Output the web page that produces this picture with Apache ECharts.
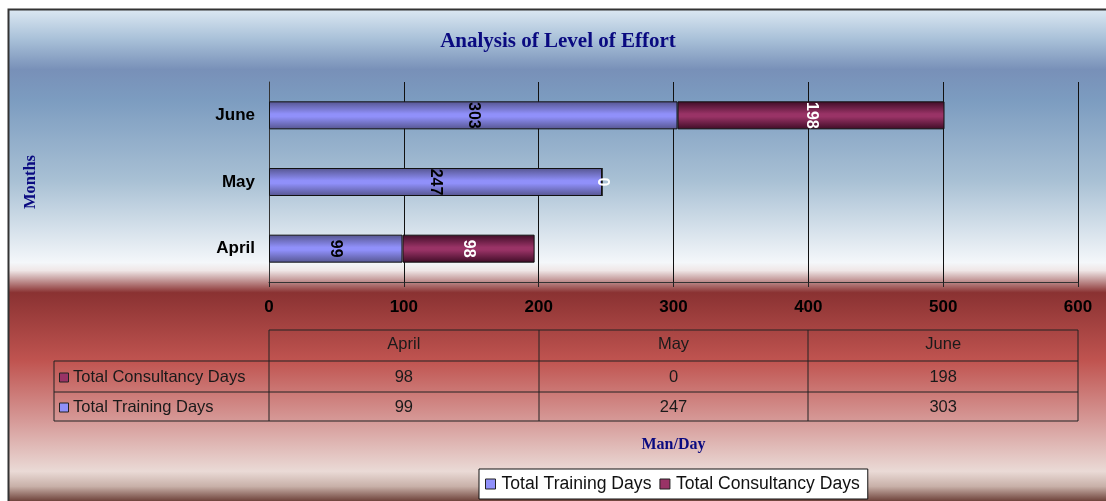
<!DOCTYPE html>
<html>
<head>
<meta charset="utf-8">
<title>Analysis of Level of Effort</title>
<script src="https://cdn.jsdelivr.net/npm/echarts@6/dist/echarts.min.js"></script>
<style>
  html, body { margin: 0; padding: 0; background: #fff; }
  #chart { width: 1106px; height: 501px; }
</style>
</head>
<body>
<div id="chart"></div>
<script>
// values
const months = ['April', 'May', 'June'];
const trainingDays = [99, 247, 303];
const consultancyDays = [98, 0, 198];
const xTicks = [0, 100, 200, 300, 400, 500, 600];
const trainingName = 'Total Training Days';
const consultancyName = 'Total Consultancy Days';

// colours
const blue = '#9090fa';
const purple = '#993366';

// plot box (px)
const gridLeft = 269;
const gridRightX = 1078;
const gridTop = 82;
const gridBottomY = 282;

const sans = 'Arial, "Liberation Sans", sans-serif';
const serif = '"Liberation Serif", "Times New Roman", serif';

function barFill(edge, mid) {
  return new echarts.graphic.LinearGradient(0, 0, 0, 1, [
    { offset: 0, color: edge },
    { offset: 0.45, color: mid },
    { offset: 0.55, color: mid },
    { offset: 1, color: edge }
  ]);
}

// data table under the axis, rows built from the same arrays
function buildTable() {
  const els = [];
  const colW = (gridRightX - gridLeft) / months.length;
  const tableLeft = 54;
  const rowY = [330, 361, 392, 421];
  const line = (x1, y1, x2, y2) => ({
    type: 'line',
    shape: { x1: x1, y1: y1, x2: x2, y2: y2 },
    style: { stroke: '#222', lineWidth: 1 },
    silent: true
  });
  els.push(line(gridLeft, rowY[0], gridRightX, rowY[0]));
  for (let i = 1; i < rowY.length; i++) {
    els.push(line(tableLeft, rowY[i], gridRightX, rowY[i]));
  }
  els.push(line(tableLeft, rowY[1], tableLeft, rowY[3]));
  for (let c = 0; c <= months.length; c++) {
    const x = Math.round(gridLeft + c * colW);
    els.push(line(x, rowY[0], x, rowY[3]));
  }
  const txt = (x, y, s, align) => ({
    type: 'text',
    x: x, y: y,
    style: {
      text: s, fill: '#1a1a1a', font: '16.5px ' + sans,
      align: align || 'center', verticalAlign: 'middle'
    },
    silent: true
  });
  months.forEach((m, i) => {
    els.push(txt(gridLeft + (i + 0.5) * colW, (rowY[0] + rowY[1]) / 2 - 1, m));
  });
  const rows = [
    { name: consultancyName, color: purple, values: consultancyDays },
    { name: trainingName, color: blue, values: trainingDays }
  ];
  rows.forEach((r, ri) => {
    const cy = (rowY[ri + 1] + rowY[ri + 2]) / 2 + 1;
    els.push({
      type: 'rect',
      shape: { x: 59.5, y: cy - 4.5, width: 9, height: 9 },
      style: { fill: r.color, stroke: '#222', lineWidth: 1 },
      silent: true
    });
    els.push(txt(73, cy, r.name, 'left'));
    r.values.forEach((v, i) => {
      els.push(txt(gridLeft + (i + 0.5) * colW, cy, String(v)));
    });
  });
  return els;
}

const chart = echarts.init(document.getElementById('chart'));

const option = {
  animation: false,
  backgroundColor: '#fff',
  title: {
    text: 'Analysis of Level of Effort',
    left: 553,
    top: 26,
    textAlign: 'center',
    textStyle: {
      fontFamily: serif,
      fontWeight: 'bold',
      fontSize: 21,
      color: '#0a0a80'
    }
  },
  legend: {
    left: 479,
    top: 469,
    orient: 'horizontal',
    backgroundColor: '#fff',
    borderColor: '#111',
    borderWidth: 1,
    borderRadius: 0,
    padding: [6, 8, 6, 6],
    itemWidth: 10,
    itemHeight: 10,
    itemGap: 8,
    icon: 'rect',
    textStyle: {
      fontFamily: sans,
      fontSize: 17.6,
      color: '#111',
      padding: [0, 0, 0, 1]
    },
    data: [
      { name: trainingName, itemStyle: { color: blue, borderColor: '#222', borderWidth: 1 } },
      { name: consultancyName, itemStyle: { color: purple, borderColor: '#222', borderWidth: 1 } }
    ]
  },
  grid: {
    left: gridLeft,
    right: 1106 - gridRightX,
    top: gridTop,
    bottom: 501 - gridBottomY,
    containLabel: false
  },
  xAxis: {
    type: 'value',
    min: xTicks[0],
    max: xTicks[xTicks.length - 1],
    interval: xTicks[1] - xTicks[0],
    name: 'Man/Day',
    nameLocation: 'middle',
    nameGap: 155,
    nameTextStyle: {
      fontFamily: serif,
      fontWeight: 'bold',
      fontSize: 16,
      color: '#0a0a80'
    },
    axisLine: { show: true, lineStyle: { color: '#333', width: 1 } },
    axisTick: { show: true, length: 5, lineStyle: { color: '#222' } },
    axisLabel: {
      margin: 17,
      fontFamily: sans,
      fontWeight: 'bold',
      fontSize: 17,
      color: '#000'
    },
    splitLine: { show: true, lineStyle: { color: '#111', width: 1 } }
  },
  yAxis: {
    type: 'category',
    data: months,
    name: 'Months',
    nameLocation: 'middle',
    nameGap: 230,
    nameRotate: 90,
    nameTextStyle: {
      fontFamily: serif,
      fontWeight: 'bold',
      fontSize: 16.5,
      color: '#0a0a80'
    },
    axisLine: { show: true, lineStyle: { color: '#333', width: 1 } },
    axisTick: { show: false },
    axisLabel: {
      margin: 14,
      fontFamily: sans,
      fontWeight: 'bold',
      fontSize: 17,
      color: '#000'
    }
  },
  series: [
    {
      name: trainingName,
      type: 'bar',
      stack: 'effort',
      barWidth: 28,
      data: trainingDays,
      itemStyle: {
        color: barFill('#55558f', blue),
        borderColor: '#111',
        borderWidth: 1
      },
      label: {
        show: true,
        position: 'inside',
        rotate: -90,
        color: '#000',
        fontFamily: sans,
        fontWeight: 'bold',
        fontSize: 16
      }
    },
    {
      name: consultancyName,
      type: 'bar',
      stack: 'effort',
      barWidth: 28,
      data: consultancyDays,
      itemStyle: {
        color: barFill('#3e0c26', purple),
        borderColor: '#111',
        borderWidth: 1
      },
      label: {
        show: true,
        position: 'inside',
        rotate: -90,
        color: '#fff',
        fontFamily: sans,
        fontWeight: 'bold',
        fontSize: 16
      }
    }
  ],
  graphic: [
    {
      type: 'rect',
      z: -10,
      silent: true,
      shape: { x: 8.5, y: 9.5, width: 1110, height: 500 },
      style: {
        fill: new echarts.graphic.LinearGradient(0, 0, 0, 1, [
          { offset: 0, color: '#dde9f3' },
          { offset: 0.062, color: '#a8c0d8' },
          { offset: 0.122, color: '#7890b8' },
          { offset: 0.182, color: '#7c9cc0' },
          { offset: 0.342, color: '#a8c0d4' },
          { offset: 0.506, color: '#f4f7fa' },
          { offset: 0.522, color: '#efe6e6' },
          { offset: 0.566, color: '#8a3232' },
          { offset: 0.702, color: '#c05450' },
          { offset: 0.822, color: '#d69a98' },
          { offset: 0.922, color: '#eadad6' },
          { offset: 0.952, color: '#c8b0a8' },
          { offset: 0.982, color: '#6c4038' },
          { offset: 1, color: '#603530' }
        ]),
        stroke: '#333',
        lineWidth: 2
      }
    }
  ].concat(buildTable())
};

chart.setOption(option);
</script>
</body>
</html>
